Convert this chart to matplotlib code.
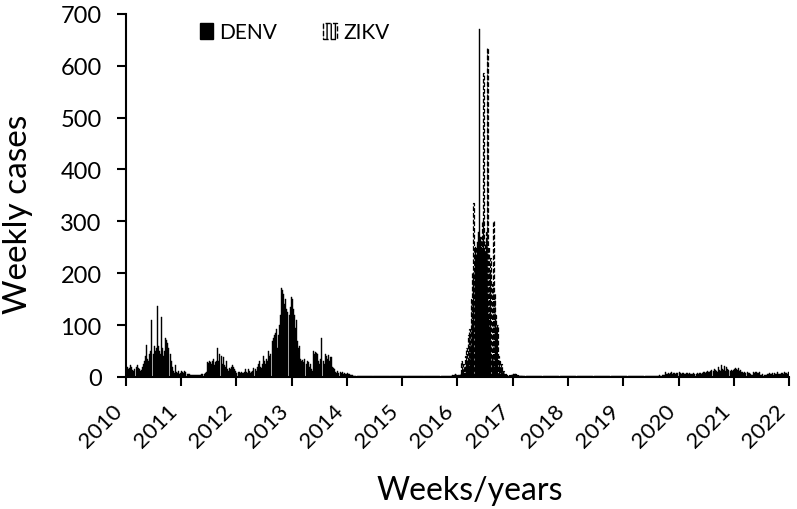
import matplotlib
matplotlib.use("Agg")
import matplotlib.pyplot as plt
import matplotlib.transforms as mtransforms
from matplotlib.patches import Patch
import numpy as np

plt.rcParams['font.family'] = ['Lato', 'DejaVu Sans']
plt.rcParams['hatch.linewidth'] = 1.0

YEARS = list(range(2010, 2022))

# weekly DENV cases, one list per year
denv = {
    2010: [18, 20, 15, 17, 22, 19, 14, 12, 16, 20, 22, 18, 15, 12, 14, 20,
           25, 30, 40, 62, 35, 30, 45, 50, 110, 45, 60, 50, 55, 136, 60, 50,
           45, 115, 55, 40, 50, 75, 72, 65, 55, 45, 30, 20, 12, 8, 22, 10,
           8, 12, 6, 8],
    2011: [12, 10, 8, 12, 10, 6, 5, 5, 4, 4, 3, 3, 3, 3, 4, 3,
           3, 4, 3, 5, 6, 5, 8, 10, 28, 27, 30, 28, 25, 30, 35, 22,
           28, 30, 55, 30, 45, 40, 25, 38, 22, 20, 30, 15, 12, 18, 15, 20,
           22, 20, 15, 12],
    2012: [8, 10, 9, 8, 10, 7, 8, 9, 15, 10, 8, 15, 12, 8, 10, 12,
           18, 15, 12, 20, 25, 30, 20, 18, 25, 40, 30, 25, 35, 30, 50, 40,
           45, 70, 75, 80, 85, 92, 55, 80, 100, 120, 172, 168, 160, 140, 150, 130,
           125, 120, 135, 155],
    2013: [150, 130, 120, 95, 110, 70, 55, 60, 35, 30, 32, 28, 35, 25, 30, 28,
           20, 25, 15, 12, 50, 45, 48, 46, 45, 30, 25, 35, 75, 30, 25, 45,
           40, 35, 42, 30, 38, 38, 20, 18, 15, 10, 8, 12, 8, 10, 7, 9,
           6, 8, 5, 6],
    2014: [8, 5, 6, 4, 3, 3, 2, 2, 1, 2, 1, 1, 2, 1, 1, 1,
           2, 1, 1, 1, 1, 2, 1, 1, 1, 1, 1, 2, 1, 1, 1, 1,
           1, 1, 2, 1, 1, 1, 1, 1, 1, 1, 1, 1, 1, 2, 1, 1,
           1, 1, 1, 1],
    2015: [1, 1, 1, 1, 1, 1, 1, 1, 1, 1, 1, 1, 1, 1, 1, 1,
           1, 1, 1, 1, 1, 1, 1, 1, 1, 1, 1, 1, 1, 1, 1, 1,
           1, 1, 1, 1, 1, 1, 1, 1, 1, 1, 1, 1, 1, 1, 2, 3,
           2, 4, 5, 3],
    2016: [3, 4, 3, 5, 4, 6, 5, 8, 10, 12, 15, 20, 30, 60, 100, 200,
           250, 230, 260, 280, 670, 270, 250, 240, 260, 230, 200, 180, 150, 120, 90, 60,
           40, 30, 20, 10, 8, 6, 5, 4, 3, 3, 2, 2, 2, 3, 2, 2,
           1, 2, 3, 4],
    2017: [5, 4, 6, 3, 2, 2, 1, 1, 1, 1, 1, 1, 1, 1, 1, 1,
           1, 1, 1, 1, 1, 1, 1, 1, 1, 1, 1, 1, 1, 1, 1, 1,
           1, 1, 1, 1, 1, 1, 1, 1, 1, 1, 1, 1, 1, 1, 1, 1,
           1, 1, 1, 1],
    2018: [1, 1, 1, 1, 1, 1, 1, 1, 1, 1, 1, 1, 1, 1, 1, 1,
           1, 1, 1, 1, 1, 1, 1, 1, 1, 1, 1, 1, 1, 1, 1, 1,
           1, 1, 1, 1, 1, 1, 1, 1, 1, 1, 1, 1, 1, 1, 1, 1,
           1, 1, 1, 1],
    2019: [1, 1, 1, 1, 1, 1, 1, 1, 1, 1, 1, 1, 1, 1, 1, 1,
           1, 1, 1, 1, 1, 1, 1, 1, 1, 1, 1, 1, 1, 1, 1, 1,
           2, 2, 3, 2, 3, 3, 4, 10, 6, 5, 8, 6, 7, 9, 6, 7,
           8, 6, 7, 8],
    2020: [9, 7, 6, 8, 7, 6, 5, 7, 8, 6, 7, 6, 5, 6, 7, 6,
           5, 7, 6, 8, 7, 6, 8, 9, 10, 8, 9, 12, 10, 9, 11, 13,
           12, 15, 14, 12, 10, 20, 13, 12, 22, 15, 14, 21, 12, 20, 15, 13,
           12, 14, 12, 13],
    2021: [16, 18, 15, 14, 17, 12, 13, 10, 9, 8, 9, 8, 10, 7, 8, 5,
           4, 4, 9, 8, 10, 9, 8, 7, 9, 4, 3, 5, 4, 3, 4, 6,
           5, 8, 6, 5, 7, 4, 8, 6, 5, 9, 6, 5, 7, 8, 6, 9,
           7, 8, 6, 10],
}

# weekly ZIKV cases (zero in the years not listed)
zikv = {
    2015: [0, 0, 0, 0, 0, 0, 0, 0, 0, 0, 0, 0, 0, 0, 0, 0,
           0, 0, 0, 0, 0, 0, 0, 0, 0, 0, 0, 0, 0, 0, 0, 0,
           0, 0, 0, 0, 0, 0, 0, 0, 0, 0, 0, 0, 0, 0, 1, 2,
           3, 2, 4, 3],
    2016: [2, 0, 5, 30, 10, 25, 15, 40, 55, 30, 80, 92, 60, 150, 200, 335,
           230, 250, 200, 260, 240, 250, 270, 300, 585, 240, 260, 280, 635, 250, 200, 230,
           180, 300, 160, 120, 95, 100, 40, 30, 20, 25, 10, 12, 5, 8, 3, 2,
           4, 1, 2, 3],
    2017: [8, 6, 5, 4, 3, 2, 2, 1, 1, 0, 0, 0, 0, 0, 0, 0,
           0, 0, 0, 0, 0, 0, 0, 0, 0, 0, 0, 0, 0, 0, 0, 0,
           0, 0, 0, 0, 0, 0, 0, 0, 0, 0, 0, 0, 0, 0, 0, 0,
           0, 0, 0, 0],
}

year_ticks = list(range(2010, 2023))


def weekly_positions(year, values):
    n = len(values)
    return year + (np.arange(n) + 0.5) / n


fig = plt.figure(figsize=(7.97, 5.10), dpi=100)
ax = fig.add_axes([0.158, 0.259, 0.832, 0.712])

bar_w = 0.95 / 52
for yr in YEARS:
    ax.bar(weekly_positions(yr, denv[yr]), denv[yr], width=bar_w,
           color='black', edgecolor='black', linewidth=0.3, zorder=2)
for yr, vals in zikv.items():
    ax.bar(weekly_positions(yr, vals), vals, width=bar_w,
           facecolor='none', edgecolor='black', linestyle='--',
           linewidth=0.9, hatch='||', zorder=3)

ax.set_xlim(2010, 2022)
ax.set_ylim(0, 700)
ax.set_xticks(year_ticks)
ax.set_xticklabels([str(y) for y in year_ticks], rotation=45, ha='right',
                   rotation_mode='anchor')
ax.set_yticks(np.arange(0, 701, 100))

for side in ['top', 'right']:
    ax.spines[side].set_visible(False)
for side in ['left', 'bottom']:
    ax.spines[side].set_linewidth(1.5)
ax.tick_params(axis='both', direction='out', length=6.5, width=1.5)
ax.tick_params(axis='y', labelsize=17, pad=11)
ax.tick_params(axis='x', labelsize=16, pad=10)

# nudge the rotated year labels to the left
shift = mtransforms.ScaledTranslation(-10 / 72, 0, fig.dpi_scale_trans)
for lbl in ax.get_xticklabels():
    lbl.set_transform(lbl.get_transform() + shift)

ax.set_xlabel("Weeks/years", fontsize=23)
ax.set_ylabel("Weekly cases", fontsize=24)
ax.xaxis.set_label_coords(0.519, -0.27)
ax.yaxis.set_label_coords(-0.14, 0.45)

handles = [Patch(facecolor='black', edgecolor='black', label='DENV'),
           Patch(facecolor='white', edgecolor='black', linestyle='--',
                 hatch='||||', label='ZIKV')]
ax.legend(handles=handles, loc='center left', bbox_to_anchor=(0.083, 0.95),
          ncol=2, frameon=False, fontsize=15, handlelength=0.65,
          handleheight=0.8, handletextpad=0.3, columnspacing=2.2)

fig.savefig("out.png", dpi=100)
